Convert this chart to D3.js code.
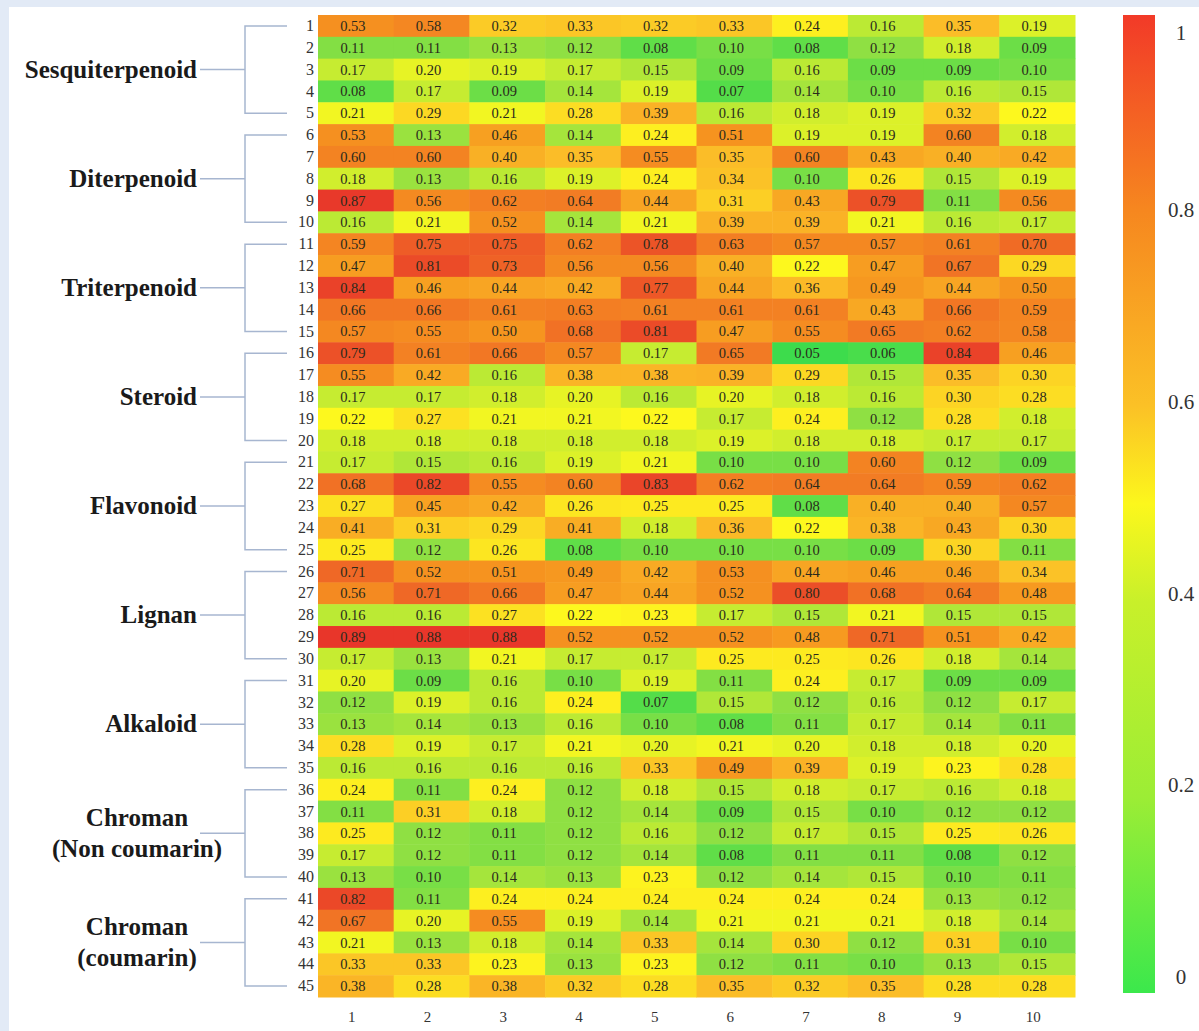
<!DOCTYPE html>
<html>
<head>
<meta charset="utf-8">
<script src="https://cdn.jsdelivr.net/npm/d3@7"></script>
<style>
    html, body { margin: 0; padding: 0; background: #e2eaf6; }
    svg { display: block; }
</style>
</head>
<body>
<div id="heatmap"></div>
<script>
// the values of the heatmap, one array per compound (row), 10 columns each
let compounds = d3.range(1, 46).map(d => String(d))
let columns = ["1", "2", "3", "4", "5", "6", "7", "8", "9", "10"]

let values = [
    [0.53, 0.58, 0.32, 0.33, 0.32, 0.33, 0.24, 0.16, 0.35, 0.19],
    [0.11, 0.11, 0.13, 0.12, 0.08, 0.10, 0.08, 0.12, 0.18, 0.09],
    [0.17, 0.20, 0.19, 0.17, 0.15, 0.09, 0.16, 0.09, 0.09, 0.10],
    [0.08, 0.17, 0.09, 0.14, 0.19, 0.07, 0.14, 0.10, 0.16, 0.15],
    [0.21, 0.29, 0.21, 0.28, 0.39, 0.16, 0.18, 0.19, 0.32, 0.22],
    [0.53, 0.13, 0.46, 0.14, 0.24, 0.51, 0.19, 0.19, 0.60, 0.18],
    [0.60, 0.60, 0.40, 0.35, 0.55, 0.35, 0.60, 0.43, 0.40, 0.42],
    [0.18, 0.13, 0.16, 0.19, 0.24, 0.34, 0.10, 0.26, 0.15, 0.19],
    [0.87, 0.56, 0.62, 0.64, 0.44, 0.31, 0.43, 0.79, 0.11, 0.56],
    [0.16, 0.21, 0.52, 0.14, 0.21, 0.39, 0.39, 0.21, 0.16, 0.17],
    [0.59, 0.75, 0.75, 0.62, 0.78, 0.63, 0.57, 0.57, 0.61, 0.70],
    [0.47, 0.81, 0.73, 0.56, 0.56, 0.40, 0.22, 0.47, 0.67, 0.29],
    [0.84, 0.46, 0.44, 0.42, 0.77, 0.44, 0.36, 0.49, 0.44, 0.50],
    [0.66, 0.66, 0.61, 0.63, 0.61, 0.61, 0.61, 0.43, 0.66, 0.59],
    [0.57, 0.55, 0.50, 0.68, 0.81, 0.47, 0.55, 0.65, 0.62, 0.58],
    [0.79, 0.61, 0.66, 0.57, 0.17, 0.65, 0.05, 0.06, 0.84, 0.46],
    [0.55, 0.42, 0.16, 0.38, 0.38, 0.39, 0.29, 0.15, 0.35, 0.30],
    [0.17, 0.17, 0.18, 0.20, 0.16, 0.20, 0.18, 0.16, 0.30, 0.28],
    [0.22, 0.27, 0.21, 0.21, 0.22, 0.17, 0.24, 0.12, 0.28, 0.18],
    [0.18, 0.18, 0.18, 0.18, 0.18, 0.19, 0.18, 0.18, 0.17, 0.17],
    [0.17, 0.15, 0.16, 0.19, 0.21, 0.10, 0.10, 0.60, 0.12, 0.09],
    [0.68, 0.82, 0.55, 0.60, 0.83, 0.62, 0.64, 0.64, 0.59, 0.62],
    [0.27, 0.45, 0.42, 0.26, 0.25, 0.25, 0.08, 0.40, 0.40, 0.57],
    [0.41, 0.31, 0.29, 0.41, 0.18, 0.36, 0.22, 0.38, 0.43, 0.30],
    [0.25, 0.12, 0.26, 0.08, 0.10, 0.10, 0.10, 0.09, 0.30, 0.11],
    [0.71, 0.52, 0.51, 0.49, 0.42, 0.53, 0.44, 0.46, 0.46, 0.34],
    [0.56, 0.71, 0.66, 0.47, 0.44, 0.52, 0.80, 0.68, 0.64, 0.48],
    [0.16, 0.16, 0.27, 0.22, 0.23, 0.17, 0.15, 0.21, 0.15, 0.15],
    [0.89, 0.88, 0.88, 0.52, 0.52, 0.52, 0.48, 0.71, 0.51, 0.42],
    [0.17, 0.13, 0.21, 0.17, 0.17, 0.25, 0.25, 0.26, 0.18, 0.14],
    [0.20, 0.09, 0.16, 0.10, 0.19, 0.11, 0.24, 0.17, 0.09, 0.09],
    [0.12, 0.19, 0.16, 0.24, 0.07, 0.15, 0.12, 0.16, 0.12, 0.17],
    [0.13, 0.14, 0.13, 0.16, 0.10, 0.08, 0.11, 0.17, 0.14, 0.11],
    [0.28, 0.19, 0.17, 0.21, 0.20, 0.21, 0.20, 0.18, 0.18, 0.20],
    [0.16, 0.16, 0.16, 0.16, 0.33, 0.49, 0.39, 0.19, 0.23, 0.28],
    [0.24, 0.11, 0.24, 0.12, 0.18, 0.15, 0.18, 0.17, 0.16, 0.18],
    [0.11, 0.31, 0.18, 0.12, 0.14, 0.09, 0.15, 0.10, 0.12, 0.12],
    [0.25, 0.12, 0.11, 0.12, 0.16, 0.12, 0.17, 0.15, 0.25, 0.26],
    [0.17, 0.12, 0.11, 0.12, 0.14, 0.08, 0.11, 0.11, 0.08, 0.12],
    [0.13, 0.10, 0.14, 0.13, 0.23, 0.12, 0.14, 0.15, 0.10, 0.11],
    [0.82, 0.11, 0.24, 0.24, 0.24, 0.24, 0.24, 0.24, 0.13, 0.12],
    [0.67, 0.20, 0.55, 0.19, 0.14, 0.21, 0.21, 0.21, 0.18, 0.14],
    [0.21, 0.13, 0.18, 0.14, 0.33, 0.14, 0.30, 0.12, 0.31, 0.10],
    [0.33, 0.33, 0.23, 0.13, 0.23, 0.12, 0.11, 0.10, 0.13, 0.15],
    [0.38, 0.28, 0.38, 0.32, 0.28, 0.35, 0.32, 0.35, 0.28, 0.28]
]

// compound classes: name (lines), first and last compound
let groupNames = [["Sesquiterpenoid"], ["Diterpenoid"], ["Triterpenoid"], ["Steroid"],
    ["Flavonoid"], ["Lignan"], ["Alkaloid"], ["Chroman", "(Non coumarin)"], ["Chroman", "(coumarin)"]]
let groupStart = ["1", "6", "11", "16", "21", "26", "31", "36", "41"]
let groupEnd = ["5", "10", "15", "20", "25", "30", "35", "40", "45"]

let legendTicks = [0, 0.2, 0.4, 0.6, 0.8, 1]

// flatten the table into cells
let cells = []
values.forEach((row, i) => {
    row.forEach((v, j) => {
        cells.push({ row: compounds[i], col: columns[j], value: v })
    })
})

let width = 1199, height = 1031
let serif = "'Liberation Serif', 'Times New Roman', serif"

let svg = d3.select("#heatmap").append("svg")
    .attr("width", width)
    .attr("height", height)

// white panel on the light blue page
svg.append("rect")
    .attr("x", 9).attr("y", 7)
    .attr("width", width - 9).attr("height", height - 7)
    .attr("fill", "#ffffff")

let x = d3.scaleBand()
    .domain(columns)
    .range([318, 1075])

let y = d3.scaleBand()
    .domain(compounds)
    .range([15, 997])

// colour of the cells: green -> yellow -> orange -> red
let color = d3.scaleLinear()
    .domain([0.05, 0.12, 0.22, 0.35, 0.5, 0.65, 0.88])
    .range(["#3ddc4c", "#8fe043", "#fdf81e", "#fbbd28", "#f6951f", "#f27a24", "#e8362a"])
    .clamp(true)

svg.append("g")
    .selectAll("rect")
    .data(cells)
    .enter().append("rect")
    .attr("x", d => x(d.col))
    .attr("y", d => y(d.row))
    .attr("width", x.bandwidth() + 0.5)
    .attr("height", y.bandwidth() + 0.5)
    .attr("fill", d => color(d.value))

svg.append("g")
    .selectAll("text")
    .data(cells)
    .enter().append("text")
    .attr("x", d => x(d.col) + x.bandwidth() / 2 - 3)
    .attr("y", d => y(d.row) + y.bandwidth() / 2)
    .attr("dy", "0.35em")
    .attr("text-anchor", "middle")
    .attr("font-family", serif)
    .attr("font-size", 14.5)
    .attr("fill", "#2a2a1c")
    .text(d => d.value.toFixed(2))

// row numbers on the left
let yAxis = svg.append("g")
    .attr("transform", "translate(318,0)")
    .call(d3.axisLeft(y).tickSize(0).tickPadding(4))
yAxis.select(".domain").remove()
yAxis.selectAll("text")
    .attr("font-family", serif)
    .attr("font-size", 16)
    .attr("fill", "#333")

// column numbers at the bottom
let xAxis = svg.append("g")
    .attr("transform", "translate(0,1007)")
    .call(d3.axisBottom(x).tickSize(0).tickPadding(4))
xAxis.select(".domain").remove()
xAxis.selectAll("text")
    .attr("x", -4)
    .attr("font-family", serif)
    .attr("font-size", 15)
    .attr("fill", "#333")

// brackets for the compound classes
let lineColor = "#a7b6d0"
let brackets = svg.append("g")
    .attr("stroke", lineColor)
    .attr("stroke-width", 1.5)
    .attr("fill", "none")

groupNames.forEach((name, i) => {
    let y0 = y(groupStart[i]) + y.bandwidth() / 2
    let y1 = y(groupEnd[i]) + y.bandwidth() / 2
    let ym = (y0 + y1) / 2
    brackets.append("path")
        .attr("d", "M287," + y0 + "H245V" + y1 + "H287")
    brackets.append("line")
        .attr("x1", 200).attr("x2", 245)
        .attr("y1", ym).attr("y2", ym)

    let label = svg.append("text")
        .attr("font-family", serif)
        .attr("font-weight", "bold")
        .attr("font-size", 25)
        .attr("fill", "#1a1a1a")
    if (name.length == 1) {
        label.attr("x", 197).attr("y", ym)
            .attr("dy", "0.32em")
            .attr("text-anchor", "end")
            .text(name[0])
    } else {
        name.forEach((line, k) => {
            label.append("tspan")
                .attr("x", 137)
                .attr("y", ym - 15 + k * 31)
                .attr("dy", "0.32em")
                .attr("text-anchor", "middle")
                .text(line)
        })
    }
})

// colour bar on the right
let defs = svg.append("defs")
let grad = defs.append("linearGradient")
    .attr("id", "bar")
    .attr("x1", 0).attr("y1", 1)
    .attr("x2", 0).attr("y2", 0)
let barStops = [0, 0.2, 0.4, 0.5, 0.6, 0.8, 1]
let barColors = ["#3be84c", "#9ced35", "#c8f02a", "#fcf71c", "#fbc126", "#f6871f", "#f23a28"]
grad.selectAll("stop")
    .data(barStops)
    .enter().append("stop")
    .attr("offset", d => d)
    .attr("stop-color", (d, i) => barColors[i])

let barScale = d3.scaleLinear()
    .domain([0, 1])
    .range([977, 19])

svg.append("rect")
    .attr("x", 1123)
    .attr("y", 15)
    .attr("width", 32)
    .attr("height", 978)
    .attr("fill", "url(#bar)")

svg.append("g")
    .selectAll("text")
    .data(legendTicks)
    .enter().append("text")
    .attr("x", 1181)
    .attr("y", d => d == 1 ? barScale(d) + 14 : barScale(d))
    .attr("dy", "0.32em")
    .attr("text-anchor", "middle")
    .attr("font-family", serif)
    .attr("font-size", 21)
    .attr("fill", "#333")
    .text(d => d)
</script>
</body>
</html>
